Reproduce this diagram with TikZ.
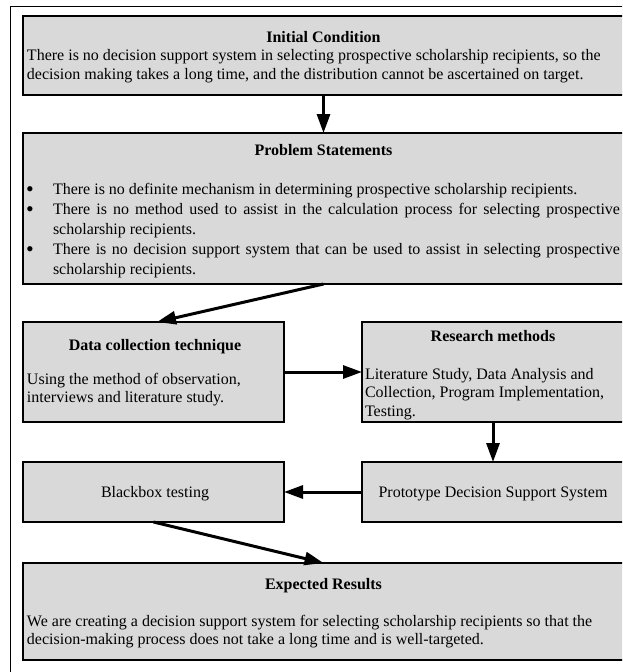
\documentclass[tikz,border=0pt]{standalone}
\usepackage{fontspec}
\setmainfont{Liberation Serif}
\usetikzlibrary{arrows.meta,calc}
\definecolor{boxgray}{RGB}{217,217,217}
\newcommand\fs{\fontsize{16}{19}\selectfont}
\begin{document}
\begin{tikzpicture}[x=1pt,y=-1pt,
  box/.style={draw=black, line width=2.2pt, fill=boxgray, inner sep=0pt, outer sep=0pt, anchor=north west},
  arr/.style={line width=3pt, -{Triangle[length=19pt,width=13pt]}},
  txt/.style={inner sep=0pt, outer sep=0pt, font=\fs},
  bul/.style={inner sep=0pt, outer sep=0pt, font=\fontsize{22}{22}\selectfont, anchor=base},
  ttl/.style={inner sep=0pt, outer sep=0pt, font=\fs\bfseries, anchor=base}]
\useasboundingbox (0,0) rectangle (622,672);
\clip (0,0) rectangle (622,672);
\draw[line width=1pt] (10,700) -- (10,6) -- (650,6);

% boxes
\node[box, minimum width=601pt, minimum height=79pt]  (ic)    at (23,16)  {};
\node[box, minimum width=601pt, minimum height=151pt] (ps)    at (23,133) {};
\node[box, minimum width=261pt, minimum height=100pt] (dc)    at (23,322) {};
\node[box, minimum width=262pt, minimum height=100pt] (rm)    at (362,322) {};
\node[box, minimum width=261pt, minimum height=60pt]  (bb)    at (23,462) {};
\node[box, minimum width=262pt, minimum height=60pt]  (proto) at (362,462) {};
\node[box, minimum width=601pt, minimum height=97pt]  (er)    at (23,563) {};

% Initial condition
\node[ttl] (ict) at (323.5,42) {Initial Condition};
\node[txt, anchor=base west] (ic1) at (27,60) {There is no decision support system in selecting prospective scholarship recipients, so the};
\node[txt, anchor=base west] (ic2) at (27,79) {decision making takes a long time, and the distribution cannot be ascertained on target.};

% Problem statements
\node[ttl] (pst) at (323.5,155) {Problem Statements};
\node[bul] (pb1) at (30,196) {•};
\node[bul] (pb2) at (30,216) {•};
\node[bul] (pb3) at (30,256) {•};
\node[txt, anchor=base west] (ps1) at (53,194) {There is no definite mechanism in determining prospective scholarship recipients.};
\node[txt, anchor=base west] (ps2) at (53,214) {\makebox[567pt][s]{There is no method used to assist in the calculation process for selecting prospective}};
\node[txt, anchor=base west] (ps3) at (53,234) {scholarship recipients.};
\node[txt, anchor=base west] (ps4) at (53,254) {\makebox[567pt][s]{There is no decision support system that can be used to assist in selecting prospective}};
\node[txt, anchor=base west] (ps5) at (53,274) {scholarship recipients.};

% Data collection
\node[ttl] (dct) at (155,350) {Data collection technique};
\node[txt, anchor=base west] (dc1) at (27,384) {Using the method of observation,};
\node[txt, anchor=base west] (dc2) at (27,402) {interviews and literature study.};

% Research methods
\node[ttl] (rmt) at (493,341) {Research methods};
\node[txt, anchor=base west] (rm1) at (365,379) {Literature Study, Data Analysis and};
\node[txt, anchor=base west] (rm2) at (365,397) {Collection, Program Implementation,};
\node[txt, anchor=base west] (rm3) at (365,416) {Testing.};

% Blackbox / prototype
\node[txt, anchor=base] (bbt) at (155,497) {Blackbox testing};
\node[txt, anchor=base] (prt) at (493,497) {Prototype Decision Support System};

% Expected results
\node[ttl] (ert) at (323.5,589) {Expected Results};
\node[txt, anchor=base west] (er1) at (27,626) {We are creating a decision support system for selecting scholarship recipients so that the};
\node[txt, anchor=base west] (er2) at (27,644) {decision-making process does not take a long time and is well-targeted.};

% connectors
\draw[arr] (ic.south) -- (ps.north);
\draw[arr] (ps.south) -- ($(dc.north)+(3.5,0)$);
\draw[arr] (dc.east) -- (rm.west);
\draw[arr] (rm.south) -- (proto.north);
\draw[arr] (proto.west) -- (bb.east);
\draw[arr] (bb.south) -- (er.north);
\end{tikzpicture}
\end{document}
